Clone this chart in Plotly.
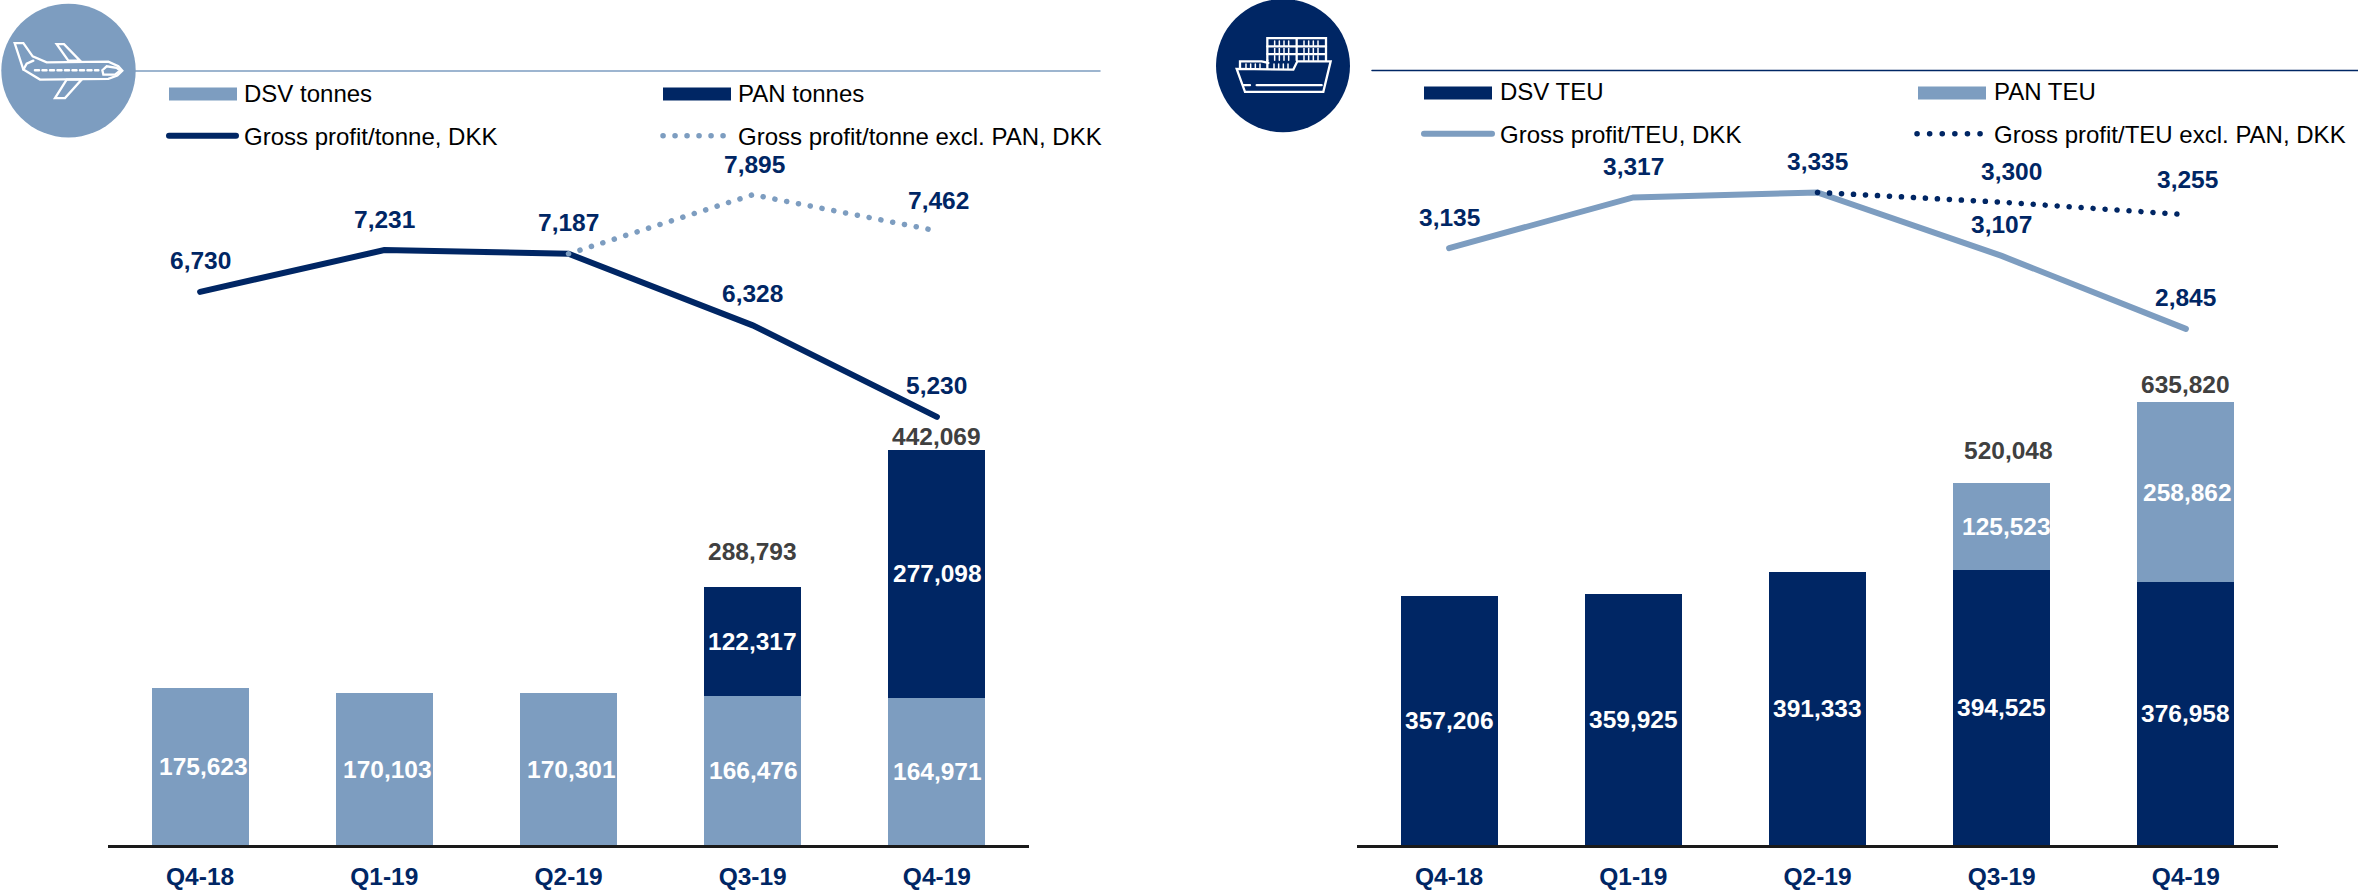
import plotly.graph_objects as go

quarters = ["Q4-18", "Q1-19", "Q2-19", "Q3-19", "Q4-19"]

air_dsv = [175623, 170103, 170301, 166476, 164971]
air_pan = [None, None, None, 122317, 277098]
air_total = [None, None, None, 288793, 442069]
air_gp = [6730, 7231, 7187, 6328, 5230]
air_gp_excl = [None, None, 7187, 7895, 7462]

sea_dsv = [357206, 359925, 391333, 394525, 376958]
sea_pan = [None, None, None, 125523, 258862]
sea_total = [None, None, None, 520048, 635820]
sea_gp = [3135, 3317, 3335, 3107, 2845]
sea_gp_excl = [None, None, 3335, 3300, 3255]

legend_air = ["DSV tonnes", "PAN tonnes", "Gross profit/tonne, DKK", "Gross profit/tonne excl. PAN, DKK"]
legend_sea = ["DSV TEU", "PAN TEU", "Gross profit/TEU, DKK", "Gross profit/TEU excl. PAN, DKK"]

NAVY = "#002664"
LIGHT = "#7D9DC0"
GREY = "#404040"
FONT = "Liberation Sans, Arial, sans-serif"
W, H = 2358, 890
BASE = 850.0
LABEL_SIZE = 24.5


def px(x):
    return x / W


def py(y):
    return 1 - y / H


def bar_range(scale):
    return [0, BASE / scale]


def line_range(anchor_v, anchor_y, scale):
    return [anchor_v - (BASE - anchor_y) / scale, anchor_v + anchor_y / scale]


fig = go.Figure()


def add_panel(xa, ya_bar, ya_line, bottom, top, c_bottom, c_top, gp, excl, c_gp, c_excl, names):
    fig.add_bar(x=quarters, y=bottom, xaxis=xa, yaxis=ya_bar, marker=dict(color=c_bottom, line_width=0),
                name=names[0], showlegend=False, hoverinfo="y")
    fig.add_bar(x=quarters, y=top, xaxis=xa, yaxis=ya_bar, marker=dict(color=c_top, line_width=0),
                name=names[1], showlegend=False, hoverinfo="y")
    fig.add_scatter(x=quarters, y=gp, xaxis=xa, yaxis=ya_line, mode="lines", name=names[2], showlegend=False,
                    line=dict(color=c_gp, width=6))
    fig.add_scatter(x=quarters, y=excl, xaxis=xa, yaxis=ya_line, mode="lines", name=names[3], showlegend=False,
                    line=dict(color=c_excl, width=5.5, dash="0.1px,11.9px"))


add_panel("x", "y", "y2", air_dsv, air_pan, LIGHT, NAVY, air_gp, air_gp_excl, NAVY, LIGHT, legend_air)
add_panel("x2", "y3", "y4", sea_dsv, sea_pan, NAVY, LIGHT, sea_gp, sea_gp_excl, LIGHT, NAVY, legend_sea)

ann = []


def label(xa, ya, q, v, color, dx=0, dy=0):
    ann.append(dict(x=q, y=v, xref=xa, yref=ya, text=f"{v:,}", showarrow=False, xanchor="center", yanchor="middle",
                    xshift=dx, yshift=dy, font=dict(family=FONT, size=LABEL_SIZE, color=color, weight="bold")))


def inner(xa, ya, q, pos, v, dx=0):
    ann.append(dict(x=q, y=pos, xref=xa, yref=ya, text=f"{v:,}", showarrow=False, xshift=dx,
                    font=dict(family=FONT, size=LABEL_SIZE, color="white", weight="bold")))


air_dsv_dx = [3, 3, 3, 1, 1]
air_pan_dx = [0, 0, 0, 0, 1]
sea_pan_dx = [0, 0, 0, 5, 2]
air_gp_dy = [31, 31, 31, 32, 31]
air_excl_dy = [0, 0, 0, 30, 30]
sea_gp_dy = [31, 31, 31, 31, 31]
sea_excl_dy = [0, 0, 0, 31, 35]
sea_excl_dx = [0, 0, 0, 10, 2]
air_total_dy = [0, 0, 0, 35, 13]
sea_total_dy = [0, 0, 0, 32, 18]
sea_total_dx = [0, 0, 0, 7, 0]

for i, q in enumerate(quarters):
    inner("x", "y", q, air_dsv[i] / 2, air_dsv[i], air_dsv_dx[i])
    inner("x2", "y3", q, sea_dsv[i] / 2, sea_dsv[i])
    if air_pan[i]:
        inner("x", "y", q, air_dsv[i] + air_pan[i] / 2, air_pan[i], air_pan_dx[i])
        label("x", "y", q, air_total[i], GREY, 0, air_total_dy[i])
        label("x", "y2", q, air_gp_excl[i], NAVY, 2, air_excl_dy[i])
    if sea_pan[i]:
        inner("x2", "y3", q, sea_dsv[i] + sea_pan[i] / 2, sea_pan[i], sea_pan_dx[i])
        label("x2", "y3", q, sea_total[i], GREY, sea_total_dx[i], sea_total_dy[i])
        label("x2", "y4", q, sea_gp_excl[i], NAVY, sea_excl_dx[i], sea_excl_dy[i])
    label("x", "y2", q, air_gp[i], NAVY, 0, air_gp_dy[i])
    label("x2", "y4", q, sea_gp[i], NAVY, 0, sea_gp_dy[i])

shapes = []


def S(**kw):
    kw.setdefault("xref", "paper")
    kw.setdefault("yref", "paper")
    shapes.append(kw)


def rect(x0, y0, x1, y1, c):
    S(type="rect", x0=px(x0), x1=px(x1), y0=py(y0), y1=py(y1), fillcolor=c, line_width=0, layer="above")


def line(x0, y0, x1, y1, c, w, dash=None):
    ln = dict(color=c, width=w)
    if dash:
        ln["dash"] = dash
    S(type="line", x0=px(x0), x1=px(x1), y0=py(y0), y1=py(y1), line=ln, layer="above")


def legend_text(x, y, t):
    ann.append(dict(x=px(x), y=py(y), xref="paper", yref="paper", text=t, showarrow=False, xanchor="left",
                    yanchor="middle", font=dict(family=FONT, size=24, color="#000000")))


# header rules
line(135, 71.5, 1100, 71.5, LIGHT, 1.5)
line(1372, 71, 2358, 71, NAVY, 1.5)

# legend, air
rect(169, 88, 237, 101, LIGHT)
rect(663, 88, 731, 101, NAVY)
line(169, 136.5, 236, 136.5, NAVY, 6)
line(663, 136.5, 729, 136.5, LIGHT, 5.5, "0.1px,11.9px")
legend_text(241.5, 94.5, legend_air[0])
legend_text(736, 94.5, legend_air[1])
legend_text(241.5, 137, legend_air[2])
legend_text(736, 137, legend_air[3])

# legend, sea
rect(1424, 87, 1492, 100, NAVY)
rect(1918, 87, 1986, 100, LIGHT)
line(1424, 134.5, 1492, 134.5, LIGHT, 6)
line(1917, 134.5, 1984, 134.5, NAVY, 5.5, "0.1px,12.5px")
legend_text(1497.5, 92.5, legend_sea[0])
legend_text(1991.5, 92.5, legend_sea[1])
legend_text(1497.5, 135, legend_sea[2])
legend_text(1991.5, 135, legend_sea[3])


def circle(cx, cy, rx, ry, c):
    S(type="circle", x0=px(cx - rx), x1=px(cx + rx), y0=py(cy - ry), y1=py(cy + ry), fillcolor=c, line_width=0,
      layer="above")


def outline(points, closed=True, w=2.3, ox=0.0, oy=0.0, k=1 / 3, dash=None):
    d = "M" + " L".join(f"{px(ox + a * k):.5f},{py(oy + b * k):.5f}" for a, b in points) + (" Z" if closed else "")
    ln = dict(color="white", width=w)
    if dash:
        ln["dash"] = dash
    S(type="path", path=d, line=ln, layer="above", fillcolor="rgba(0,0,0,0)")


# plane icon
circle(68.5, 71, 67.2, 67.2, LIGHT)
outline([(44, 130), (70, 130), (98, 170), (140, 188), (325, 186), (355, 200), (367, 213), (352, 228), (325, 238),
         (120, 240), (70, 210)])
outline([(170, 133), (192, 133), (240, 183), (205, 183)])
outline([(200, 240), (165, 296), (195, 296), (245, 240)])
outline([(70, 210), (80, 192), (100, 183)], closed=False)
outline([(307, 212), (320, 200), (350, 205), (360, 213), (345, 225), (310, 225)])
outline([(105, 212), (295, 212)], closed=False, w=2.5, dash="4px,3.5px")

# ship icon
OX, OY = 1210, 0
circle(1283, 66, 67, 67, NAVY)
for p, c in [([(172, 182), (172, 115), (348, 115), (348, 182)], False), ([(260, 115), (260, 182)], False),
             ([(172, 140), (348, 140)], False), ([(172, 163), (348, 163)], False),
             ([(90, 208), (90, 185), (155, 185), (175, 190)], False),
             ([(80, 208), (105, 277), (340, 277), (362, 185), (262, 185), (250, 210)], True),
             ([(140, 257), (335, 257)], False), ([(100, 257), (120, 257)], False)]:
    outline(p, closed=c, ox=OX, oy=OY)
for y0, y1, xs in [(124, 138, (194, 208, 222, 236, 282, 296, 310, 324)),
                   (146, 160, (194, 208, 222, 236, 282, 296, 310, 324)),
                   (168, 182, (194, 208, 222, 236, 282, 296, 310, 324)),
                   (193, 207, (108, 122, 136, 150, 192, 206, 220, 234))]:
    for x in xs:
        outline([(x, y0), (x, y1)], closed=False, w=1.5, ox=OX, oy=OY)
outline([(172, 182), (172, 208)], closed=False, ox=OX, oy=OY)

hidden = dict(visible=False, fixedrange=True)
dom_bar = [1 - BASE / H, 1]
x_common = dict(type="category", categoryorder="array", categoryarray=quarters, showgrid=False, zeroline=False,
                showline=True, linecolor="#1a1a1a", linewidth=3, ticks="outside", ticklen=7, tickcolor="rgba(0,0,0,0)",
                tickfont=dict(family=FONT, size=24.5, color=NAVY, weight="bold"), fixedrange=True)

fig.update_layout(
    width=W, height=H, margin=dict(l=0, r=0, t=0, b=0, pad=0), paper_bgcolor="white", plot_bgcolor="white",
    barmode="stack", bargap=0.474, showlegend=False,
    xaxis=dict(domain=[px(108), px(1029)], anchor="y", **x_common),
    xaxis2=dict(domain=[px(1357), px(2278)], anchor="y3", **x_common),
    yaxis=dict(domain=dom_bar, range=bar_range(0.0009), **hidden),
    yaxis2=dict(domain=dom_bar, range=line_range(6730, 293.5, 0.0838), overlaying="y", **hidden),
    yaxis3=dict(domain=dom_bar, range=bar_range(0.000701), anchor="x2", **hidden),
    yaxis4=dict(domain=dom_bar, range=line_range(3135, 249.5, 0.28), anchor="x2", overlaying="y3", **hidden),
    annotations=ann, shapes=shapes,
)

css = ("document.body.style.margin='0';document.documentElement.style.overflow='hidden';"
       "document.head.insertAdjacentHTML('beforeend',"
       "'<style>.js-line,.shapelayer path{stroke-linecap:round}</style>');")
fig.write_html("out.html", post_script=css, config={"displayModeBar": False})
